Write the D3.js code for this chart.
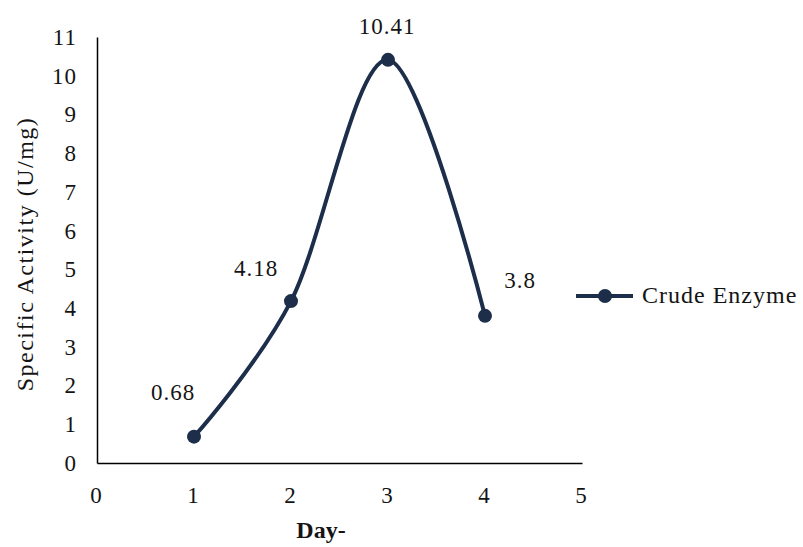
<!DOCTYPE html>
<html><head><meta charset="utf-8">
<script src="https://cdn.jsdelivr.net/npm/d3@7"></script>
<style>body{margin:0;background:#fff}svg{display:block}text{font-family:"Liberation Serif","Times New Roman",serif}</style>
</head><body><div id="c"></div>
<script>
const days = [1, 2, 3, 4];
const activity = [0.68, 4.18, 10.41, 3.8];
const xTicks = [0, 1, 2, 3, 4, 5];
const yTicks = [0, 1, 2, 3, 4, 5, 6, 7, 8, 9, 10, 11];
const seriesName = "Crude Enzyme";
const xTitle = "Day-";
const yTitle = "Specific Activity (U/mg)";

const W = 803, H = 547;
const color = "#1c2e4a";
const txt = "#141414";
const svg = d3.select("#c").append("svg").attr("width", W).attr("height", H);
const x = d3.scaleLinear().domain([0, 5]).range([97, 582]);
const y = d3.scaleLinear().domain([0, 11]).range([463, 37]);

const xAxis = svg.append("g").attr("transform", `translate(0,${y(0)})`)
  .call(d3.axisBottom(x).tickValues(xTicks).tickSize(0).tickPadding(24).tickFormat(d3.format("d")));
xAxis.select(".domain").attr("stroke", "#000").attr("stroke-width", 1.5);
xAxis.selectAll("text").attr("font-size", 23).attr("fill", txt).attr("font-family", '"Liberation Serif",serif')
  .attr("letter-spacing", 1).attr("dx", -1);

const yAxis = svg.append("g").attr("transform", `translate(${x(0)},0)`)
  .call(d3.axisLeft(y).tickValues(yTicks).tickSize(0).tickPadding(20).tickFormat(d3.format("d")));
yAxis.select(".domain").attr("stroke", "#000").attr("stroke-width", 1.5);
yAxis.selectAll("text").attr("font-size", 23).attr("fill", txt).attr("font-family", '"Liberation Serif",serif')
  .attr("letter-spacing", 1).attr("text-anchor", "end");

const data = days.map((d, i) => ({ x: d, y: activity[i] }));
const line = d3.line().x(d => x(d.x)).y(d => y(d.y)).curve(d3.curveCatmullRom.alpha(0));
svg.append("path").datum(data).attr("d", line).attr("fill", "none")
  .attr("stroke", color).attr("stroke-width", 4);
svg.selectAll("circle.pt").data(data).join("circle").attr("class", "pt")
  .attr("cx", d => x(d.x)).attr("cy", d => y(d.y)).attr("r", 7).attr("fill", color);

const labelOffsets = [[-21, -37], [-35, -25], [-1, -26], [35, -28]];
svg.selectAll("text.lbl").data(data).join("text").attr("class", "lbl")
  .attr("x", (d, i) => x(d.x) + labelOffsets[i][0])
  .attr("y", (d, i) => y(d.y) + labelOffsets[i][1])
  .attr("text-anchor", "middle").attr("font-size", 23).attr("letter-spacing", 1).attr("fill", txt)
  .text(d => d.y);

svg.append("text").attr("x", 321).attr("y", 538).attr("text-anchor", "middle")
  .attr("font-size", 24).attr("font-weight", "bold").attr("fill", txt).text(xTitle);
svg.append("text").attr("transform", `translate(33,254) rotate(-90)`).attr("text-anchor", "middle")
  .attr("font-size", 24).attr("letter-spacing", 1.5).attr("fill", txt).text(yTitle);

const lg = svg.append("g");
lg.append("line").attr("x1", 576).attr("x2", 633).attr("y1", 296).attr("y2", 296)
  .attr("stroke", color).attr("stroke-width", 4);
lg.append("circle").attr("cx", 605).attr("cy", 296).attr("r", 7).attr("fill", color);
lg.append("text").attr("x", 642).attr("y", 303).attr("font-size", 24).attr("letter-spacing", 1).attr("fill", txt).text(seriesName);
</script></body></html>
